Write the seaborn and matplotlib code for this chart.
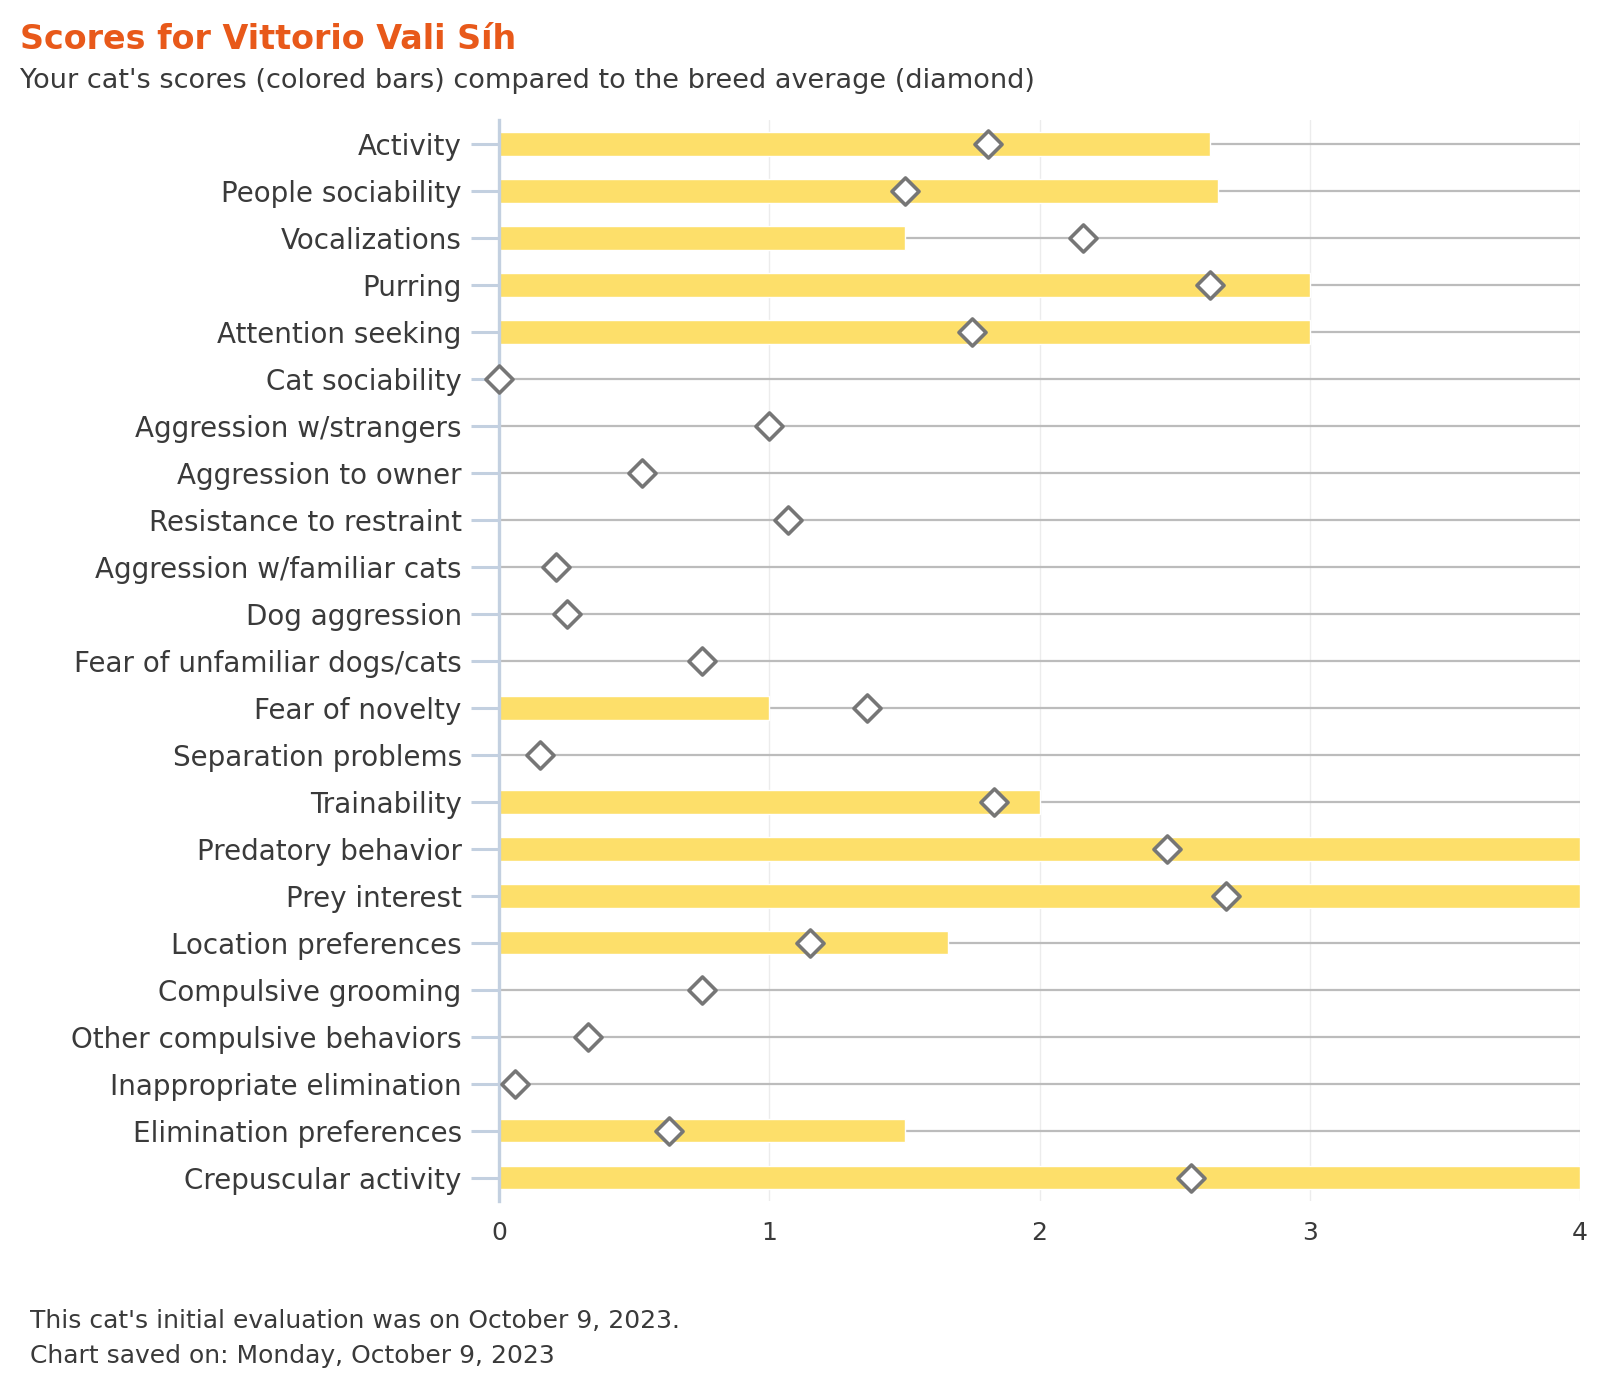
import matplotlib
matplotlib.use("Agg")
import matplotlib.pyplot as plt
import seaborn as sns
import pandas as pd

traits = [
    "Activity", "People sociability", "Vocalizations", "Purring",
    "Attention seeking", "Cat sociability", "Aggression w/strangers",
    "Aggression to owner", "Resistance to restraint",
    "Aggression w/familiar cats", "Dog aggression",
    "Fear of unfamiliar dogs/cats", "Fear of novelty", "Separation problems",
    "Trainability", "Predatory behavior", "Prey interest",
    "Location preferences", "Compulsive grooming",
    "Other compulsive behaviors", "Inappropriate elimination",
    "Elimination preferences", "Crepuscular activity",
]
cat_scores = [2.63, 2.66, 1.5, 3.0, 3.0, 0, 0, 0, 0, 0, 0, 0, 1.0, 0,
              2.0, 4.0, 4.0, 1.66, 0, 0, 0, 1.5, 4.0]
breed_avg = [1.81, 1.5, 2.16, 2.63, 1.75, 0.0, 1.0, 0.53, 1.07, 0.21, 0.25,
             0.75, 1.36, 0.15, 1.83, 2.47, 2.69, 1.15, 0.75, 0.33, 0.06,
             0.63, 2.56]
x_ticks = [0, 1, 2, 3, 4]

title = "Scores for Vittorio Vali Síh"
subtitle = "Your cat's scores (colored bars) compared to the breed average (diamond)"
footer1 = "This cat's initial evaluation was on October 9, 2023."
footer2 = "Chart saved on: Monday, October 9, 2023"

df = pd.DataFrame({"trait": traits, "score": cat_scores, "avg": breed_avg})

sns.set_theme(style="white")
plt.rcParams["font.family"] = ["DejaVu Sans"]

TEXT = "#3a3a3a"
fig = plt.figure(figsize=(16, 14), dpi=100)
ax = fig.add_axes([0.312, 0.142, 0.9875 - 0.312, 0.914 - 0.142])

# row guide lines
ax.hlines(y=range(len(traits)), xmin=0, xmax=4, color="#bcbcbc", lw=1.6, zorder=1)
for xv in x_ticks[1:]:
    ax.axvline(xv, color="#ececec", lw=1.0, zorder=0.5)

sns.barplot(data=df, x="score", y="trait", orient="h", color="#FDDF6A",
            saturation=1, width=0.5, ax=ax, zorder=2)
sns.scatterplot(data=df, x="avg", y="trait", marker="D", s=190,
                facecolor="white", edgecolor="#767676", linewidth=2.6,
                ax=ax, zorder=4, clip_on=False)

ax.set_xlim(0, 4)
ax.set_ylim(len(traits) - 0.5, -0.5)
ax.set_xticks(x_ticks)
ax.set_xticklabels([str(v) for v in x_ticks])
ax.set_xlabel("")
ax.set_ylabel("")
for s in ["top", "right", "bottom"]:
    ax.spines[s].set_visible(False)
ax.spines["left"].set_color("#c3d0e0")
ax.spines["left"].set_linewidth(2.4)
ax.spines["left"].set_zorder(3)
ax.tick_params(axis="y", length=20, width=2.2, color="#c3d0e0", pad=7,
               labelsize=20, labelcolor=TEXT, left=True)
ax.tick_params(axis="x", length=0, pad=14, labelsize=18, labelcolor=TEXT)

fig.text(0.0128, 0.972, title, fontsize=24, fontweight="bold", color="#E8591A",
         va="center", ha="left")
fig.text(0.0128, 0.9425, subtitle, fontsize=19.5, color=TEXT, va="center", ha="left")
fig.text(0.019, 0.0565, footer1, fontsize=18, color=TEXT, va="center", ha="left")
fig.text(0.019, 0.0315, footer2, fontsize=18, color=TEXT, va="center", ha="left")

fig.savefig("out.png", dpi=100, facecolor="white")
